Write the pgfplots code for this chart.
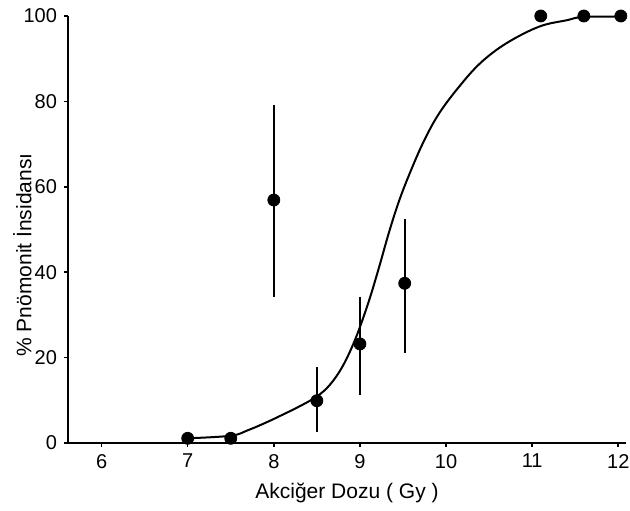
\documentclass[border=0pt]{standalone}
\usepackage{fontspec}
\setmainfont{Liberation Sans}
\usepackage{pgfplots}
\pgfplotsset{compat=1.18}

\begin{document}
\begin{tikzpicture}
\begin{axis}[
    name=ax,
    scale only axis,
    width=279pt, height=213.5pt,
    xmin=5.61, xmax=12.09,
    ymin=0, ymax=100,
    axis lines=left,
    axis line style={-, line width=1pt},
    xtick={6,7,8,9,10,11,12},
    ytick={0,20,40,60,80,100},
    tick align=outside,
    major tick length=2pt,
    tick style={line width=0.8pt, black},
    clip=false,
    /pgf/number format/assume math mode=true,
    every tick label/.style={font=\fontsize{10}{12}\selectfont},
    xlabel={Akciğer Dozu ( Gy )},
    ylabel={\% Pnömonit İnsidansı},
    every axis x label/.style={at={(axis description cs:0.5,-0.117)}, anchor=center, font=\fontsize{10.5}{12}\selectfont},
    every axis y label/.style={at={(axis description cs:-0.082,0.44)}, anchor=center, rotate=90, font=\fontsize{10.5}{12}\selectfont},
]
% fitted curve
\addplot[black, line width=1pt, smooth, tension=0.6, no marks] coordinates {
    (7.0,1.1) (7.5,1.7) (7.7,3.0) (7.9,4.7) (8.1,6.6) (8.3,8.6) (8.5,10.9)
    (8.65,13.6) (8.8,18.0) (8.95,24.5) (9.1,33.0) (9.22,41.0) (9.34,49.5)
    (9.46,57.0) (9.6,64.2) (9.75,71.0) (9.92,77.2) (10.15,83.4) (10.4,89.0)
    (10.7,93.6) (11.08,97.5) (11.4,99.0) (11.6,99.8) (12.03,99.8)
};
% observed points with error bars
\addplot[only marks, mark=*, mark size=3pt, black,
    error bars/.cd, y dir=both, y explicit, error mark=none,
    error bar style={line width=0.8pt}] coordinates {
    (7.0,1.1)
    (7.5,1.1)
    (8.0,56.9) += (0,22.3) -= (0,22.8)
    (8.5,9.9) += (0,7.8) -= (0,7.3)
    (9.0,23.2) += (0,10.9) -= (0,12.0)
    (9.52,37.4) += (0,15.0) -= (0,16.4)
    (11.1,100)
    (11.6,100)
    (12.03,100)
};
\end{axis}
\pgfresetboundingbox
\path[use as bounding box] ([xshift=-34pt,yshift=-34pt]ax.south west) rectangle ([xshift=2pt,yshift=8pt]ax.north east);
\end{tikzpicture}
\end{document}
